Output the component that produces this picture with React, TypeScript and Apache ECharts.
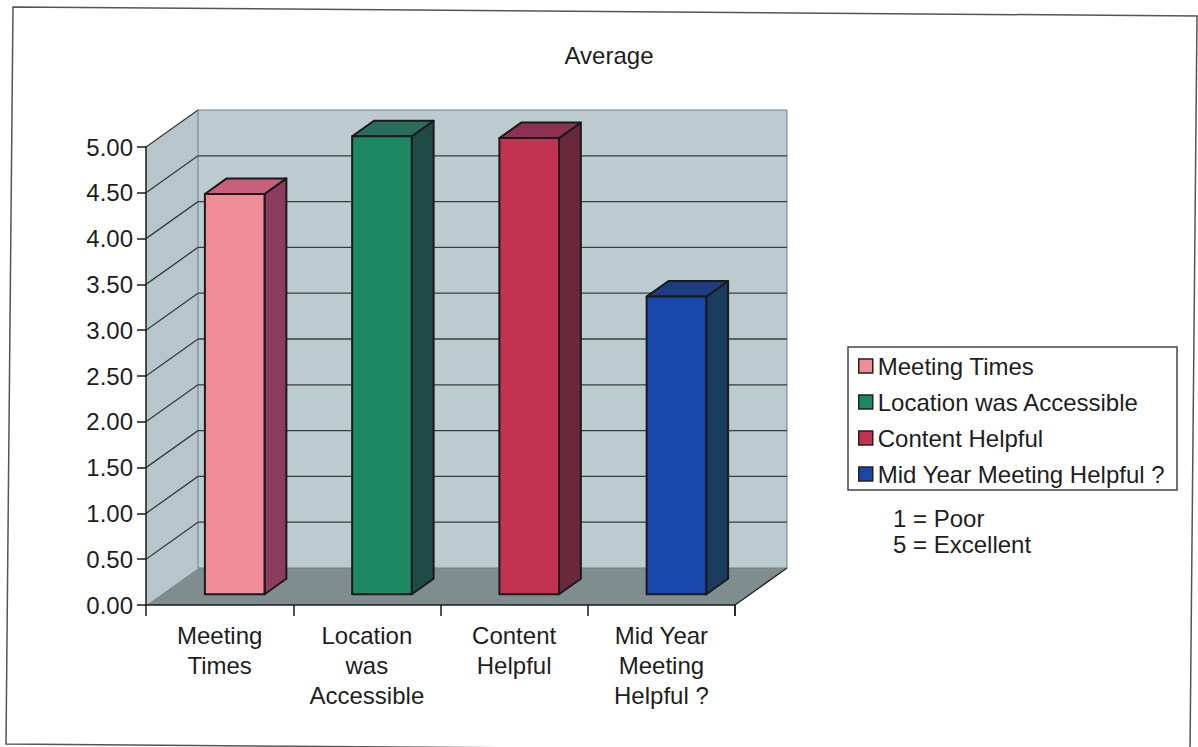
import React, { useEffect, useRef } from "react";
import * as echarts from "echarts";

// ---- data ----
const categoryLabels = [
  "Meeting\nTimes",
  "Location\nwas\nAccessible",
  "Content\nHelpful",
  "Mid Year\nMeeting\nHelpful ?",
];
const seriesNames = [
  "Meeting Times",
  "Location was Accessible",
  "Content Helpful",
  "Mid Year Meeting Helpful ?",
];
const averages = [4.37, 5.0, 4.98, 3.25];
const yTickValues = [0, 0.5, 1, 1.5, 2, 2.5, 3, 3.5, 4, 4.5, 5];
const titleText = "Average";
const notes = ["1 = Poor", "5 = Excellent"];

// ---- styles ----
const frontColors = ["#f08c96", "#1e8764", "#c33250", "#1946aa"];
const sideColors = ["#8c3c5f", "#1e4b46", "#69283c", "#193c5f"];
const topColors = ["#c85f7d", "#286e5a", "#8c3250", "#1e3c82"];
const WALL = "#bccbd0";
const SIDE_WALL = "#b6c6cc";
const FLOOR = "#7f8d8e";
const GRID_LINE = "#3c3c3c";
const FONT = "'Liberation Sans', Arial, sans-serif";
const TEXT = "#1e1e1e";
const DEPTH = [52, -37];
const BAR_FRONT = 0.29;
const BAR_BACK = 0.71;
const BAR_WIDTH_RATIO = 0.405;

export default function App() {
  const ref = useRef<HTMLDivElement>(null);

  useEffect(() => {
    if (!ref.current) return;
    const chart = echarts.init(ref.current, undefined, { renderer: "svg" });

    const wallsRender = (params: any, api: any) => {
      const cs = params.coordSys;
      const x0 = cs.x;
      const y0 = cs.y;
      const x1 = cs.x + cs.width;
      const y1 = cs.y + cs.height;
      const [dx, dy] = DEPTH;
      const children: any[] = [];
      children.push({
        type: "polygon",
        shape: { points: [[x0, y1], [x1, y1], [x1 + dx, y1 + dy], [x0 + dx, y1 + dy]] },
        style: { fill: FLOOR, stroke: null },
      });
      children.push({
        type: "polygon",
        shape: { points: [[x0, y0], [x0 + dx, y0 + dy], [x0 + dx, y1 + dy], [x0, y1]] },
        style: { fill: SIDE_WALL, stroke: null },
      });
      children.push({
        type: "polygon",
        shape: { points: [[x0 + dx, y0 + dy], [x1 + dx, y0 + dy], [x1 + dx, y1 + dy], [x0 + dx, y1 + dy]] },
        style: { fill: WALL, stroke: "#6f8090", lineWidth: 1 },
      });
      const maxV = yTickValues[yTickValues.length - 1];
      yTickValues.forEach((v) => {
        if (v <= 0) return;
        const y = api.coord([0, v])[1];
        children.push({
          type: "line",
          shape: { x1: x0, y1: y, x2: x0 + dx, y2: y + dy },
          style: { stroke: GRID_LINE, lineWidth: 1.3 },
        });
        if (v < maxV) {
          children.push({
            type: "line",
            shape: { x1: x0 + dx, y1: y + dy, x2: x1 + dx, y2: y + dy },
            style: { stroke: GRID_LINE, lineWidth: 1.3 },
          });
        }
      });
      children.push({
        type: "line",
        shape: { x1: x1, y1: y1, x2: x1 + dx, y2: y1 + dy },
        style: { stroke: "#2a2a2a", lineWidth: 1.5 },
      });
      children.push({
        type: "line",
        shape: { x1: x1, y1: y1, x2: x1, y2: y1 + 11 },
        style: { stroke: "#2a2a2a", lineWidth: 1.5 },
      });
      return { type: "group", children };
    };

    const barRender = (idx: number) => (params: any, api: any) => {
      const i = api.value(0);
      const v = api.value(1);
      const top = api.coord([i, v]);
      const base = api.coord([i, 0]);
      const bw = api.size([1, 0])[0] * BAR_WIDTH_RATIO;
      const fx = DEPTH[0] * BAR_FRONT;
      const fy = DEPTH[1] * BAR_FRONT;
      const ddx = DEPTH[0] * (BAR_BACK - BAR_FRONT);
      const ddy = DEPTH[1] * (BAR_BACK - BAR_FRONT);
      const L = top[0] - bw / 2 + fx;
      const R = top[0] + bw / 2 + fx;
      const T = top[1] + fy;
      const B = base[1] + fy;
      const stroke = { stroke: "#1a1a1a", lineWidth: 2, lineJoin: "round" };
      return {
        type: "group",
        children: [
          {
            type: "polygon",
            shape: { points: [[R, T], [R + ddx, T + ddy], [R + ddx, B + ddy], [R, B]] },
            style: { fill: sideColors[idx], ...stroke },
          },
          {
            type: "polygon",
            shape: { points: [[L, T], [L + ddx, T + ddy], [R + ddx, T + ddy], [R, T]] },
            style: { fill: topColors[idx], ...stroke },
          },
          {
            type: "polygon",
            shape: { points: [[L, T], [R, T], [R, B], [L, B]] },
            style: { fill: frontColors[idx], ...stroke },
          },
        ],
      };
    };

    const option: any = {
      animation: false,
      backgroundColor: "#ffffff",
      textStyle: { fontFamily: FONT },
      grid: { left: 146, top: 147, width: 589, height: 458, containLabel: false },
      xAxis: {
        type: "category",
        data: categoryLabels,
        boundaryGap: true,
        axisLine: { show: true, lineStyle: { color: "#1a1a1a", width: 1.5 } },
        axisTick: { show: true, length: 11, lineStyle: { color: "#1a1a1a", width: 1.5 } },
        axisLabel: {
          interval: 0,
          margin: 15,
          fontSize: 24,
          lineHeight: 30,
          color: TEXT,
          fontFamily: FONT,
          align: "center",
        },
        splitLine: { show: false },
        z: 10,
      },
      yAxis: {
        type: "value",
        min: 0,
        max: 5,
        interval: 0.5,
        axisLine: { show: true, lineStyle: { color: "#1a1a1a", width: 1.5 } },
        axisTick: { show: true, length: 9, lineStyle: { color: "#1a1a1a", width: 1.5 } },
        axisLabel: {
          margin: 13,
          fontSize: 24,
          color: TEXT,
          fontFamily: FONT,
          formatter: (v: number) => v.toFixed(2),
        },
        splitLine: { show: false },
        z: 10,
      },
      legend: {
        show: true,
        orient: "vertical",
        left: 848,
        top: 347,
        data: seriesNames,
        icon: "rect",
        itemWidth: 14,
        itemHeight: 14,
        itemGap: 10,
        padding: [6, 12, 3, 10],
        borderColor: "#444",
        borderWidth: 1.5,
        selectedMode: false,
        itemStyle: { borderColor: "#222", borderWidth: 1.5 },
        textStyle: { fontSize: 24, lineHeight: 26, color: TEXT, fontFamily: FONT },
      },
      graphic: [
        {
          type: "polygon",
          shape: { points: [[13, 7], [1197, 16], [1190, 753], [6, 744]] },
          style: { fill: "none", stroke: "#555", lineWidth: 1.5 },
          silent: true,
          z: -1,
        },
        {
          type: "text",
          x: 609,
          y: 55,
          style: {
            text: titleText,
            fontSize: 24,
            fontFamily: FONT,
            fill: TEXT,
            textAlign: "center",
            textVerticalAlign: "middle",
          },
        },
        {
          type: "text",
          x: 893,
          y: 518,
          style: {
            text: notes[0],
            fontSize: 24,
            fontFamily: FONT,
            fill: TEXT,
            textAlign: "left",
            textVerticalAlign: "middle",
          },
        },
        {
          type: "text",
          x: 893,
          y: 544,
          style: {
            text: notes[1],
            fontSize: 24,
            fontFamily: FONT,
            fill: TEXT,
            textAlign: "left",
            textVerticalAlign: "middle",
          },
        },
      ],
      series: [
        {
          type: "custom",
          name: "walls",
          renderItem: wallsRender,
          data: [[0, 0]],
          clip: false,
          silent: true,
          z: 1,
        },
        ...seriesNames.map((name, idx) => ({
          type: "custom",
          name,
          renderItem: barRender(idx),
          data: [[idx, averages[idx]]],
          encode: { x: 0, y: 1 },
          clip: false,
          z: 3,
          itemStyle: { color: frontColors[idx], borderColor: "#222", borderWidth: 1.5 },
        })),
      ],
    };

    chart.setOption(option);
    return () => chart.dispose();
  }, []);

  return (
    <div
      ref={ref}
      style={{ position: "fixed", left: 0, top: 0, width: 1198, height: 747 }}
    />
  );
}
